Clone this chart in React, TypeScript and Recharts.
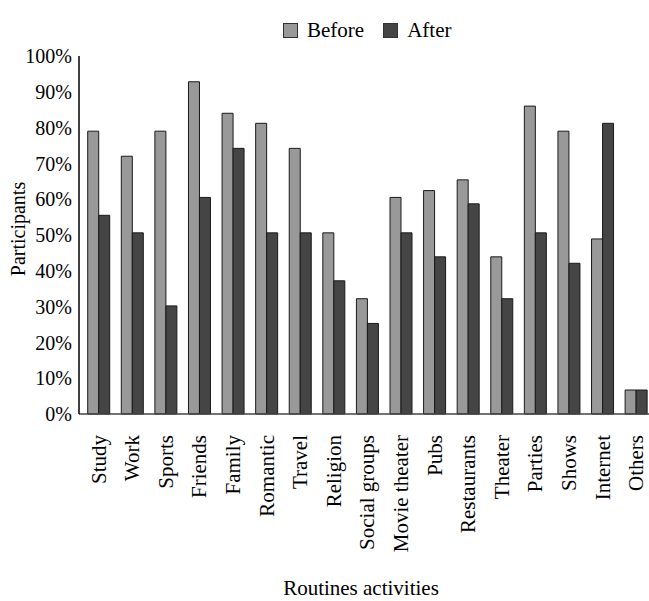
import React from 'react';
import { BarChart, Bar, XAxis, YAxis, Legend } from 'recharts';

const categories = [
  'Study', 'Work', 'Sports', 'Friends', 'Family', 'Romantic', 'Travel', 'Religion',
  'Social groups', 'Movie theater', 'Pubs', 'Restaurants', 'Theater', 'Parties',
  'Shows', 'Internet', 'Others',
];
const before = [79, 72, 79, 92.8, 84, 81.2, 74.2, 50.6, 32.2, 60.5, 62.4, 65.4, 43.9, 86, 79, 48.9, 6.7];
const after = [55.5, 50.6, 30.2, 60.5, 74.2, 50.6, 50.6, 37.2, 25.3, 50.6, 43.9, 58.7, 32.2, 50.6, 42.1, 81.2, 6.7];
const yTicks = [0, 10, 20, 30, 40, 50, 60, 70, 80, 90, 100];

const colors = {
  before: '#999999',
  after: '#454545',
  stroke: '#1a1a1a',
};

const FONT = '"Liberation Serif", "Times New Roman", serif';

const data = categories.map((name, i) => ({ name, before: before[i], after: after[i] }));

const XTick = (props: any) => {
  const { x, y, payload } = props;
  return (
    <g transform={`translate(${x},${y})`}>
      <text transform="rotate(-90)" textAnchor="end" dy="0.33em" fontSize={21} fontFamily={FONT} fill="#000">
        {payload.value}
      </text>
    </g>
  );
};

const LegendBox = () => {
  const items = [
    { label: 'Before', color: colors.before },
    { label: 'After', color: colors.after },
  ];
  return (
    <div style={{ display: 'flex', alignItems: 'center', fontFamily: FONT, fontSize: 21, whiteSpace: 'nowrap' }}>
      {items.map((it, i) => (
        <div key={it.label} style={{ display: 'flex', alignItems: 'center', marginRight: i === 0 ? 19 : 0 }}>
          <span
            style={{
              display: 'inline-block',
              width: 13,
              height: 13,
              background: it.color,
              border: '1px solid #333',
              marginRight: 9,
            }}
          />
          <span>{it.label}</span>
        </div>
      ))}
    </div>
  );
};

const YTitle = (props: any) => {
  const { viewBox } = props;
  return (
    <text
      transform={`translate(${viewBox.x + 25},${viewBox.y + viewBox.height / 2 - 6}) rotate(-90)`}
      textAnchor="middle"
      fontSize={20}
      fontFamily={FONT}
      fill="#000"
    >
      Participants
    </text>
  );
};

export default function App() {
  return (
    <div style={{ position: 'absolute', left: 0, top: 0, width: 649, height: 601, overflow: 'hidden', background: '#fff' }}>
      <BarChart
        width={656}
        height={601}
        data={data}
        margin={{ top: 56, right: 3, left: 0, bottom: 0 }}
        barGap={0}
        barCategoryGap="17%"
      >
        <XAxis
          dataKey="name"
          interval={0}
          height={187}
          padding={{ left: 3, right: 0 }}
          tickLine={false}
          tickSize={0}
          tickMargin={21}
          tick={<XTick />}
          axisLine={{ stroke: '#444', strokeWidth: 1.5 }}
          label={{
            value: 'Routines activities',
            position: 'insideBottom',
            offset: 6,
            dx: -5,
            fontSize: 21,
            fontFamily: FONT,
            fill: '#000',
          }}
        />
        <YAxis
          width={79}
          domain={[0, 100]}
          ticks={yTicks}
          tickFormatter={(v: number) => `${v}%`}
          tickLine={false}
          tickSize={0}
          tickMargin={7}
          axisLine={{ stroke: '#000', strokeWidth: 1.5 }}
          tick={{ fontSize: 20, fontFamily: FONT, fill: '#000' }}
          label={<YTitle />}
        />
        <Legend
          verticalAlign="middle"
          align="center"
          content={<LegendBox />}
          wrapperStyle={{ top: 18, left: 283, width: 'auto' }}
        />
        <Bar dataKey="before" name="Before" fill={colors.before} stroke={colors.stroke} strokeWidth={1} isAnimationActive={false} />
        <Bar dataKey="after" name="After" fill={colors.after} stroke={colors.stroke} strokeWidth={1} isAnimationActive={false} />
      </BarChart>
    </div>
  );
}
